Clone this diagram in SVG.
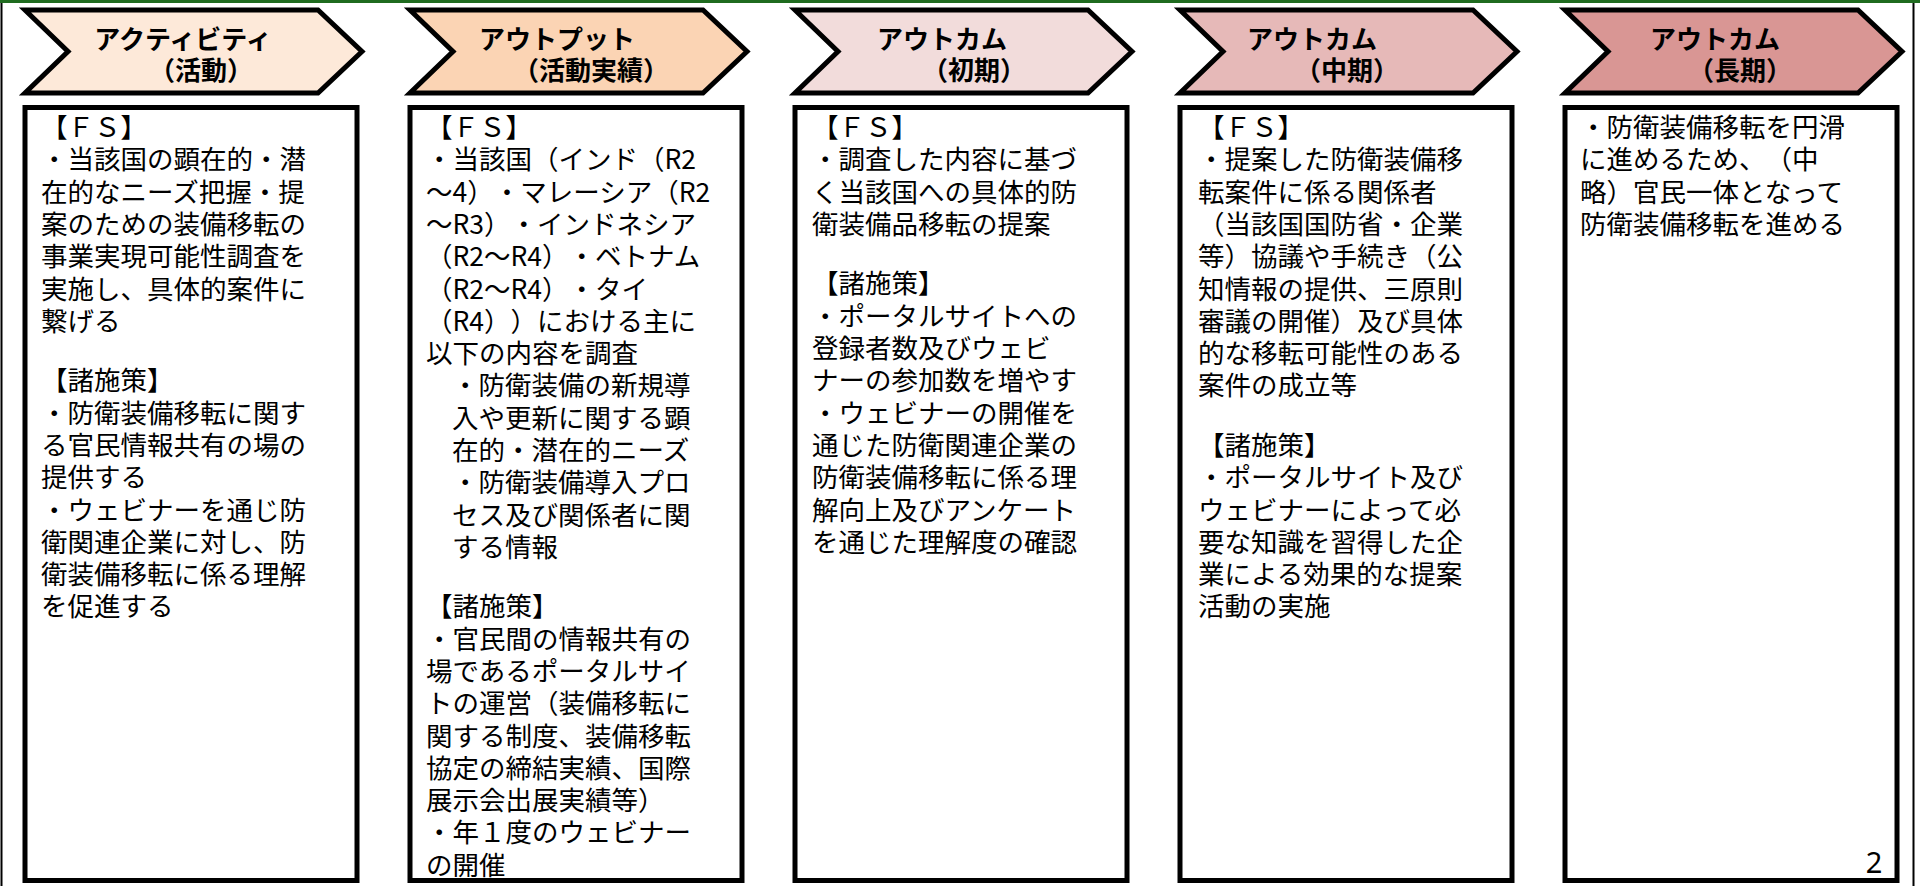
<svg xmlns="http://www.w3.org/2000/svg" width="1920" height="886" viewBox="0 0 1920 886">
<style>
.frame{fill:none;stroke:#000;stroke-width:2}
.chev{stroke:#000;stroke-width:5;stroke-linejoin:miter}
.box{fill:#fff;stroke:#000;stroke-width:5}
text{text-spacing-trim:space-all}
.hd{font-family:"Noto Sans CJK JP","Noto Sans",sans-serif;font-weight:bold;font-size:26px;fill:#000;text-anchor:middle}
.bd{font-family:"Noto Sans CJK JP","Noto Sans",sans-serif;font-size:26.5px;fill:#000}
.pg{font-family:"Noto Sans","Open Sans",sans-serif;font-size:29px;fill:#000;text-anchor:middle}
</style>
<rect x="0" y="0" width="1920" height="886" fill="#fff"/>
<line x1="1.5" y1="3" x2="1.5" y2="886" class="frame"/>
<line x1="1913.5" y1="3" x2="1913.5" y2="886" class="frame"/>
<rect x="0" y="0" width="1920" height="3" fill="#1f6b1f"/>

<g id="col1">
<polygon class="chev" fill="#fde9d9" points="25,10 318,10 362,51.5 318,93 25,93 68,51.5"/>
<text class="hd" x="183" y="49">アクティビティ</text>
<text class="hd" x="201" y="80">（活動）</text>
<rect class="box" x="25" y="107.5" width="332" height="773"/>
<text class="bd" x="41" y="137">
<tspan x="41">【ＦＳ】</tspan>
<tspan x="41" dy="32.3">・当該国の顕在的・潜</tspan>
<tspan x="41" dy="32.3">在的なニーズ把握・提</tspan>
<tspan x="41" dy="32.3">案のための装備移転の</tspan>
<tspan x="41" dy="32.3">事業実現可能性調査を</tspan>
<tspan x="41" dy="32.3">実施し、具体的案件に</tspan>
<tspan x="41" dy="32.3">繋げる</tspan>
<tspan x="41" dy="59.5">【諸施策】</tspan>
<tspan x="41" dy="32.3">・防衛装備移転に関す</tspan>
<tspan x="41" dy="32.3">る官民情報共有の場の</tspan>
<tspan x="41" dy="32.3">提供する</tspan>
<tspan x="41" dy="32.3">・ウェビナーを通じ防</tspan>
<tspan x="41" dy="32.3">衛関連企業に対し、防</tspan>
<tspan x="41" dy="32.3">衛装備移転に係る理解</tspan>
<tspan x="41" dy="32.3">を促進する</tspan>
</text>
</g>

<g id="col2">
<polygon class="chev" fill="#fbd4b4" points="410,10 703,10 747,51.5 703,93 410,93 453,51.5"/>
<text class="hd" x="557" y="49">アウトプット</text>
<text class="hd" x="591" y="80">（活動実績）</text>
<rect class="box" x="410" y="107.5" width="332" height="773"/>
<text class="bd" x="426" y="137">
<tspan x="426">【ＦＳ】</tspan>
<tspan x="426" dy="32.3">・当該国（インド（R2</tspan>
<tspan x="426" dy="32.3">〜4）・マレーシア（R2</tspan>
<tspan x="426" dy="32.3">〜R3）・インドネシア</tspan>
<tspan x="426" dy="32.3">（R2〜R4）・ベトナム</tspan>
<tspan x="426" dy="32.3">（R2〜R4）・タイ</tspan>
<tspan x="426" dy="32.3">（R4））における主に</tspan>
<tspan x="426" dy="32.3">以下の内容を調査</tspan>
<tspan x="452" dy="32.3">・防衛装備の新規導</tspan>
<tspan x="452" dy="32.3">入や更新に関する顕</tspan>
<tspan x="452" dy="32.3">在的・潜在的ニーズ</tspan>
<tspan x="452" dy="32.3">・防衛装備導入プロ</tspan>
<tspan x="452" dy="32.3">セス及び関係者に関</tspan>
<tspan x="452" dy="32.3">する情報</tspan>
<tspan x="426" dy="59.5">【諸施策】</tspan>
<tspan x="426" dy="32.3">・官民間の情報共有の</tspan>
<tspan x="426" dy="32.3">場であるポータルサイ</tspan>
<tspan x="426" dy="32.3">トの運営（装備移転に</tspan>
<tspan x="426" dy="32.3">関する制度、装備移転</tspan>
<tspan x="426" dy="32.3">協定の締結実績、国際</tspan>
<tspan x="426" dy="32.3">展示会出展実績等）</tspan>
<tspan x="426" dy="32.3">・年１度のウェビナー</tspan>
<tspan x="426" dy="32.3">の開催</tspan>
</text>
</g>

<g id="col3">
<polygon class="chev" fill="#f2dcdb" points="795,10 1088,10 1132,51.5 1088,93 795,93 838,51.5"/>
<text class="hd" x="942" y="49">アウトカム</text>
<text class="hd" x="974" y="80">（初期）</text>
<rect class="box" x="795" y="107.5" width="332" height="773"/>
<text class="bd" x="812" y="137">
<tspan x="812">【ＦＳ】</tspan>
<tspan x="812" dy="32.3">・調査した内容に基づ</tspan>
<tspan x="812" dy="32.3">く当該国への具体的防</tspan>
<tspan x="812" dy="32.3">衛装備品移転の提案</tspan>
<tspan x="812" dy="59.5">【諸施策】</tspan>
<tspan x="812" dy="32.3">・ポータルサイトへの</tspan>
<tspan x="812" dy="32.3">登録者数及びウェビ</tspan>
<tspan x="812" dy="32.3">ナーの参加数を増やす</tspan>
<tspan x="812" dy="32.3">・ウェビナーの開催を</tspan>
<tspan x="812" dy="32.3">通じた防衛関連企業の</tspan>
<tspan x="812" dy="32.3">防衛装備移転に係る理</tspan>
<tspan x="812" dy="32.3">解向上及びアンケート</tspan>
<tspan x="812" dy="32.3">を通じた理解度の確認</tspan>
</text>
</g>

<g id="col4">
<polygon class="chev" fill="#e6b9b8" points="1180,10 1473,10 1517,51.5 1473,93 1180,93 1223,51.5"/>
<text class="hd" x="1312" y="49">アウトカム</text>
<text class="hd" x="1347" y="80">（中期）</text>
<rect class="box" x="1180" y="107.5" width="332" height="773"/>
<text class="bd" x="1198" y="137">
<tspan x="1198">【ＦＳ】</tspan>
<tspan x="1198" dy="32.3">・提案した防衛装備移</tspan>
<tspan x="1198" dy="32.3">転案件に係る関係者</tspan>
<tspan x="1198" dy="32.3">（当該国国防省・企業</tspan>
<tspan x="1198" dy="32.3">等）協議や手続き（公</tspan>
<tspan x="1198" dy="32.3">知情報の提供、三原則</tspan>
<tspan x="1198" dy="32.3">審議の開催）及び具体</tspan>
<tspan x="1198" dy="32.3">的な移転可能性のある</tspan>
<tspan x="1198" dy="32.3">案件の成立等</tspan>
<tspan x="1198" dy="59.5">【諸施策】</tspan>
<tspan x="1198" dy="32.3">・ポータルサイト及び</tspan>
<tspan x="1198" dy="32.3">ウェビナーによって必</tspan>
<tspan x="1198" dy="32.3">要な知識を習得した企</tspan>
<tspan x="1198" dy="32.3">業による効果的な提案</tspan>
<tspan x="1198" dy="32.3">活動の実施</tspan>
</text>
</g>

<g id="col5">
<polygon class="chev" fill="#d99694" points="1565,10 1858,10 1902,51.5 1858,93 1565,93 1608,51.5"/>
<text class="hd" x="1715" y="49">アウトカム</text>
<text class="hd" x="1740" y="80">（長期）</text>
<rect class="box" x="1565" y="107.5" width="332" height="773"/>
<text class="bd" x="1580" y="137">
<tspan x="1580">・防衛装備移転を円滑</tspan>
<tspan x="1580" dy="32.3">に進めるため、（中</tspan>
<tspan x="1580" dy="32.3">略）官民一体となって</tspan>
<tspan x="1580" dy="32.3">防衛装備移転を進める</tspan>
</text>
</g>

<g id="connectors"></g>

<text class="pg" x="1874" y="873">2</text>
</svg>
